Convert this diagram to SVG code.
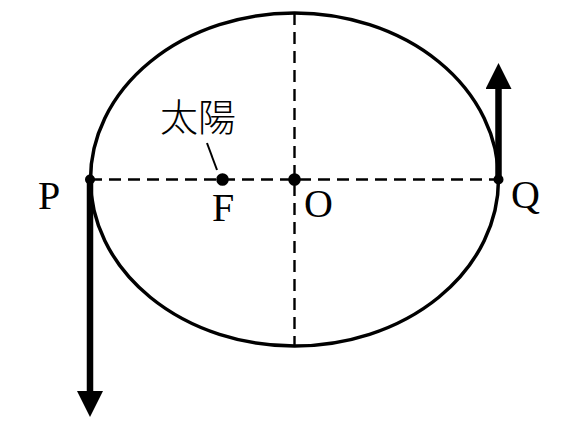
<svg xmlns="http://www.w3.org/2000/svg" width="580" height="426" viewBox="0 0 580 426">
<style>
.lbl{font-family:"Liberation Serif","Times New Roman",serif;font-size:40px;fill:#000}
.cjk{font-family:"Noto Sans CJK JP","Noto Sans CJK SC",sans-serif;font-size:38px;font-weight:300;fill:#000}
.dash{stroke:#000;stroke-width:2.4;stroke-dasharray:12,7;fill:none}
.vec{stroke:#000;stroke-width:6.5;fill:none}
</style>
<defs>
<marker id="ah" markerUnits="userSpaceOnUse" markerWidth="26" markerHeight="26" viewBox="0 0 26 26" refX="0" refY="13" orient="auto">
<path d="M0,0 L26,13 L0,26 Z" fill="#000"/>
</marker>
</defs>
<rect width="580" height="426" fill="#fff"/>
<g id="orbit">
<ellipse cx="294.5" cy="179.5" rx="204" ry="166.5" fill="none" stroke="#000" stroke-width="3.5"/>
</g>
<g id="connectors">
<line class="dash" x1="90" y1="179.5" x2="498.5" y2="179.5"/>
<line class="dash" x1="294.5" y1="13" x2="294.5" y2="346"/>
<line class="vec" x1="90" y1="179.5" x2="90" y2="391" marker-end="url(#ah)"/>
<line class="vec" x1="498.5" y1="179.5" x2="498.5" y2="89" marker-end="url(#ah)"/>
<line x1="207" y1="143" x2="217" y2="170" stroke="#000" stroke-width="2"/>
</g>
<g id="P">
<circle cx="90" cy="179.5" r="5" fill="#000"/>
<text class="lbl" x="38" y="209">P</text>
</g>
<g id="F">
<circle cx="222.5" cy="179.5" r="6.3" fill="#000"/>
<text class="lbl" x="212" y="221">F</text>
</g>
<g id="O">
<circle cx="294.5" cy="179.5" r="6.3" fill="#000"/>
<text class="lbl" x="304" y="217">O</text>
</g>
<g id="Q">
<circle cx="498.5" cy="179.5" r="5" fill="#000"/>
<text class="lbl" x="511" y="208">Q</text>
</g>
<g id="sun">
<text class="cjk" x="160" y="131">太陽</text>
</g>
</svg>
